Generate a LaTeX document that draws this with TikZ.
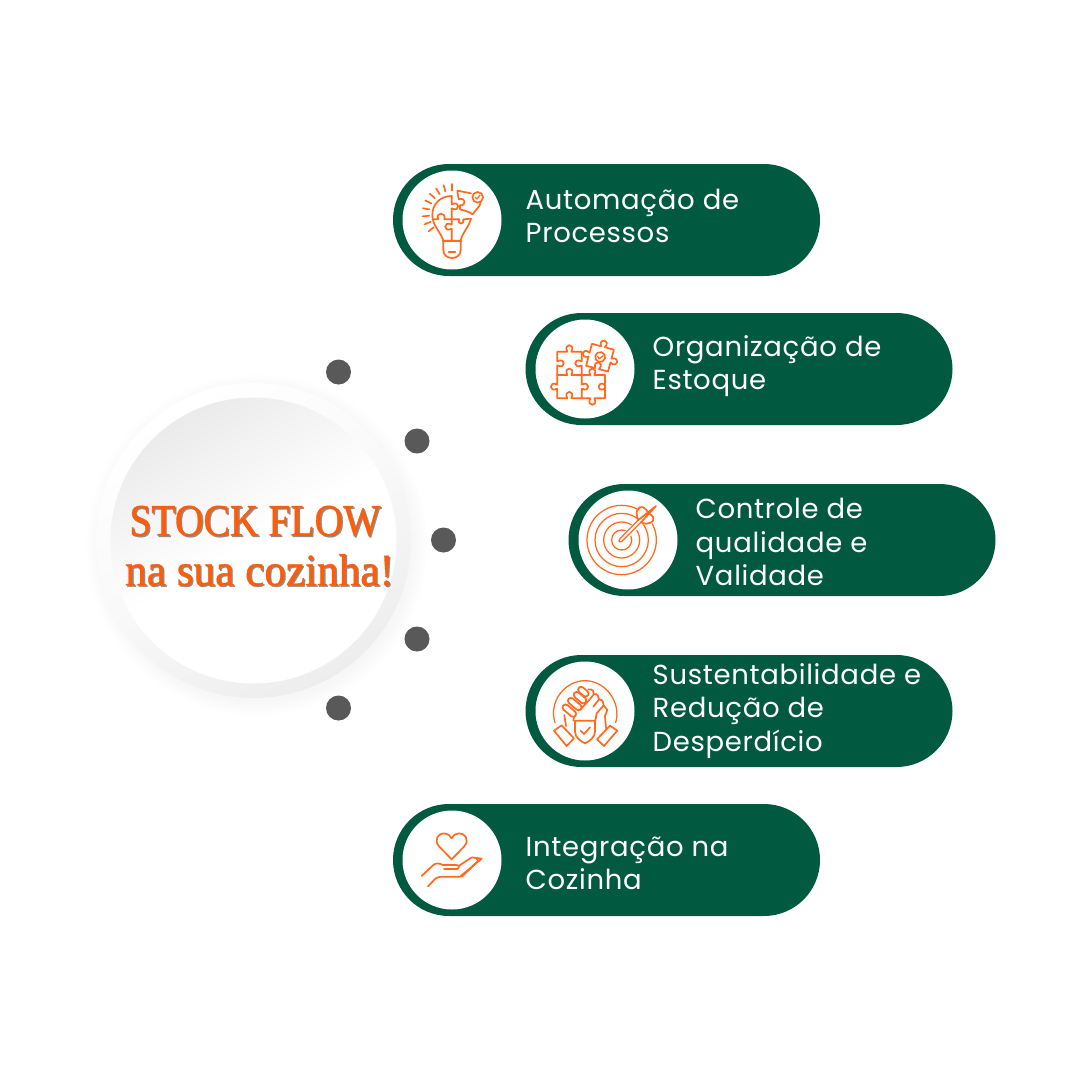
\documentclass[tikz,border=0pt]{standalone}
\usepackage{fontspec}
\setmainfont[LetterSpace=2.5]{Poppins}
\newfontfamily\titlefont[FakeBold=0.8]{Liberation Serif}
\usetikzlibrary{shapes.misc,calc}
\definecolor{pinegreen}{HTML}{015A40}
\definecolor{flame}{HTML}{FF5C0A}
\definecolor{iconline}{HTML}{FF6A1F}
\definecolor{dotgrey}{HTML}{595959}
\tikzset{
  pillbox/.style={rounded rectangle,fill=pinegreen,minimum width=427pt,minimum height=112pt,inner sep=0pt,outer sep=0pt},
  iconplate/.style={circle,fill=white,minimum size=99pt,inner sep=0pt},
  marker/.style={circle,fill=dotgrey,minimum size=25pt,inner sep=0pt},
  caption/.style={text=white,font=\fontsize{27.5}{33.3}\selectfont,align=left,anchor=west,inner sep=0pt},
  heading/.style={font=\titlefont\fontsize{45}{45}\selectfont,inner sep=0pt,xscale=#1,transform shape},
  ico/.style={draw=iconline,line width=1.7pt,line cap=round,line join=round},
  thinico/.style={draw=iconline,line width=1.25pt,line cap=round,line join=round},
  knob/.style n args={4}{insert path={.. controls +({26*#1-14*#3},{26*#2-14*#4}) and +({26*#1+14*#3},{26*#2+14*#4}) .. +({12*#3},{12*#4})}},
  icon at/.style={shift={#1},x=0.33333pt,y=-0.33333pt}
}
\begin{document}
\begin{tikzpicture}[x=1pt,y=-1pt]
\path[use as bounding box,fill=white] (0,0) rectangle (1080,1080);

% soft shadow under the central disc
\foreach \r in {0,2,...,14}{
  \fill[black,opacity=0.005] (257,545) circle[radius=157+\r];
}
\node[circle,minimum size=315pt,inner sep=0pt,top color=white,bottom color=white!93!black,middle color=white!97.5!black,shading angle=30] (ring) at (253.5,540.5) {};
\node[circle,minimum size=286pt,inner sep=0pt,top color=white!92!black,bottom color=white,middle color=white,shading angle=30] (face) at (253.5,540.5) {};

% heading with its grey offset copy
\node[heading=.88,text=black!45] (t1s) at (256.3,522.3) {STOCK FLOW};
\node[heading=.88,text=flame] (t1) at (255,521) {STOCK FLOW};
\node[heading=.96,text=black!45] (t2s) at (260.8,571.3) {na sua cozinha!};
\node[heading=.96,text=flame] (t2) at (259.5,570) {na sua cozinha!};

% markers on the arc
\node[marker] (m1) at (338.5,372) {};
\node[marker] (m2) at (417,441) {};
\node[marker] (m3) at (443.5,540) {};
\node[marker] (m4) at (417,639) {};
\node[marker] (m5) at (338.5,708) {};

% pills
\node[pillbox] (p1) at (606.5,220) {};
\node[pillbox] (p2) at (739,369) {};
\node[pillbox] (p3) at (782,540) {};
\node[pillbox] (p4) at (739,711) {};
\node[pillbox] (p5) at (606.5,860) {};
\node[iconplate] (c1) at (452,220) {};
\node[iconplate] (c2) at (585,369) {};
\node[iconplate] (c3) at (628,540) {};
\node[iconplate] (c4) at (585,711) {};
\node[iconplate] (c5) at (452,860) {};

\node[caption] (l1) at (525.5,216) {Automação de\\Processos};
\node[caption] (l2) at (652.5,366) {Organização de\\Estoque};
\node[caption] (l3) at (695.5,542) {Controle de\\qualidade e\\Validade};
\node[caption] (l4) at (652.5,711) {Sustentabilidade e\\Redução de\\Desperdício};
\node[caption] (l5) at (525.5,863) {Integração na\\Cozinha};

% light bulb built from puzzle pieces
\begin{scope}[icon at={(400,170)}]
  \foreach \a in {90,106,122,138,154,170,186,202,218}{
    \draw[ico] ($(155,130)+(\a:68 and -68)$) -- ($(155,130)+(\a:88 and -88)$);
  }
  \draw[ico] (155,78) .. controls (120,78) and (97,103) .. (97,135) .. controls (97,168) and (122,185) .. (130,212) -- (182,212) .. controls (186,190) and (206,172) .. (213,146);
  \draw[ico] (155,78) -- (155,103) [knob={1}{0}{0}{1}] -- (155,148) -- (155,164) [knob={-1}{0}{0}{1}] -- (155,212);
  \draw[ico] (100,148) -- (115,148) .. controls (105,125) and (140,125) .. (133,148) -- (178,148) .. controls (170,165) and (195,165) .. (190,148) -- (213,146);
  \draw[ico] (172,62) -- (213,70) (242,97) -- (238,108) -- (228,120) -- (218,133) .. controls (208,124) and (192,122) .. (180,118) -- (180,106) .. controls (200,108) and (198,80) .. (176,88) -- (172,62);
  \draw[ico] (233,82) circle[radius=16];
  \draw[ico,line width=1.3pt] (226,82) -- (231,87) -- (240,75);
  \draw[ico] (130,216) -- (130,240) .. controls (130,272) and (182,272) .. (182,240) -- (182,216);
  \draw[ico] (128,214) -- (184,214);
  \draw[ico] (146,247) -- (166,247);
\end{scope}

% jigsaw with a ticked piece
\begin{scope}[icon at={(530,320)}]
  \draw[ico] (82,95) -- (112,95) [knob={0}{-1}{1}{0}] -- (155,95) -- (155,124) [knob={-1}{0}{0}{1}] -- (155,165) -- (124,165) [knob={0}{-1}{-1}{0}] -- (82,165) -- (82,136) [knob={1}{0}{0}{-1}] -- cycle;
  \draw[ico] (82,165) -- (82,194) [knob={-1}{0}{0}{1}] -- (82,235) -- (112,235) [knob={0}{-1}{1}{0}] -- (155,235) -- (155,206) [knob={1}{0}{0}{-1}] -- (155,165);
  \draw[ico] (155,165) -- (181,165) [knob={0}{-1}{1}{0}] -- (225,165) -- (225,206) [knob={-1}{0}{0}{-1}] -- (225,235) -- (193,235) [knob={0}{1}{-1}{0}] -- (155,235);
  \begin{scope}[shift={(210,113)},rotate=-15]
    \draw[ico] (-34,-34) -- (-6,-34) [knob={0}{-1}{1}{0}] -- (34,-34) -- (34,-6) [knob={1}{0}{0}{1}] -- (34,34) -- (6,34) [knob={0}{-1}{-1}{0}] -- (-34,34) -- (-34,6) [knob={-1}{0}{0}{-1}] -- cycle;
    \draw[ico] (0,-2) circle[radius=15];
    \draw[ico,line width=1.3pt] (-8,-2) -- (-2,4) -- (8,-8);
  \end{scope}
\end{scope}

% target and dart
\begin{scope}[icon at={(575,490)}]
  \foreach \r in {30,54,80,104}{\draw[thinico] (140,150) circle[radius=\r];}
  \draw[white,line width=7pt] (150,140) -- (205,85);
  \fill[white] (185,70) -- (205,45) -- (250,80) -- (225,108) -- (195,100) -- cycle;
  \draw[thinico] (140,155) -- (198,97) (134,147) -- (190,90) (134,147) .. controls (130,155) and (133,158) .. (140,155);
  \draw[ico] (190,90) .. controls (178,65) and (190,45) .. (205,52) .. controls (214,58) and (217,62) .. (220,70) (198,97) .. controls (220,108) and (240,95) .. (235,82) .. controls (232,76) and (226,73) .. (220,70);
  \draw[ico] (190,90) -- (243,48) -- (198,97);
\end{scope}

% clasped hands and shield
\begin{scope}[icon at={(530,660)}]
  \draw[thinico] (75,188) .. controls (55,125) and (105,62) .. (165,62) .. controls (225,62) and (275,125) .. (257,188);
  \draw[ico] (72,212) -- (95,196) -- (132,235) -- (110,258) -- cycle;
  \draw[ico] (262,212) -- (240,197) -- (201,238) -- (222,258) -- cycle;
  % forearms and the back of the upper hand
  \draw[ico] (108,198) -- (103,165) (132,170) -- (130,182);
  \draw[ico] (175,88) .. controls (188,86) and (192,95) .. (192,102) .. controls (203,100) and (207,110) .. (207,118) .. controls (218,118) and (222,128) .. (221,136) -- (232,150) -- (225,168) -- (228,205);
  \draw[ico] (150,150) -- (170,128) .. controls (178,120) and (184,112) .. (192,102) (207,118) -- (190,140) (221,136) -- (200,160) -- (196,182);
  % the four fingers, stacked from the wrist up
  \foreach \x/\y/\w in {118/152/24,134/132/24,150/113/22,160/95/18}{
    \draw[ico,fill=white,rotate around={-40:(\x,\y)},rounded corners=3pt] (\x-\w,\y-9) rectangle (\x+\w,\y+9);
  }
  \draw[ico,fill=white] (135,182) -- (195,182) -- (195,215) .. controls (195,232) and (178,244) .. (165,250) .. controls (152,244) and (135,232) .. (135,215) -- cycle;
  \draw[ico] (152,212) -- (162,222) -- (180,202);
\end{scope}

% heart over an open hand
\begin{scope}[icon at={(400,810)}]
  \draw[ico] (155,148) -- (118,110) .. controls (98,88) and (118,68) .. (133,70) .. controls (143,70) and (151,76) .. (155,85) .. controls (159,76) and (167,70) .. (177,70) .. controls (192,68) and (212,88) .. (192,110) -- cycle;
  \draw[ico] (65,198) -- (100,165) .. controls (108,158) and (118,160) .. (130,165) -- (168,165) .. controls (178,165) and (180,172) .. (172,177) -- (132,177);
  \draw[ico] (84,229) -- (104,208) .. controls (112,200) and (125,200) .. (135,200) -- (180,200) -- (228,160) -- (245,146) -- (215,142) -- (176,168);
  \draw[ico] (186,200) -- (235,152) -- (228,144);
\end{scope}
\end{tikzpicture}
\end{document}
